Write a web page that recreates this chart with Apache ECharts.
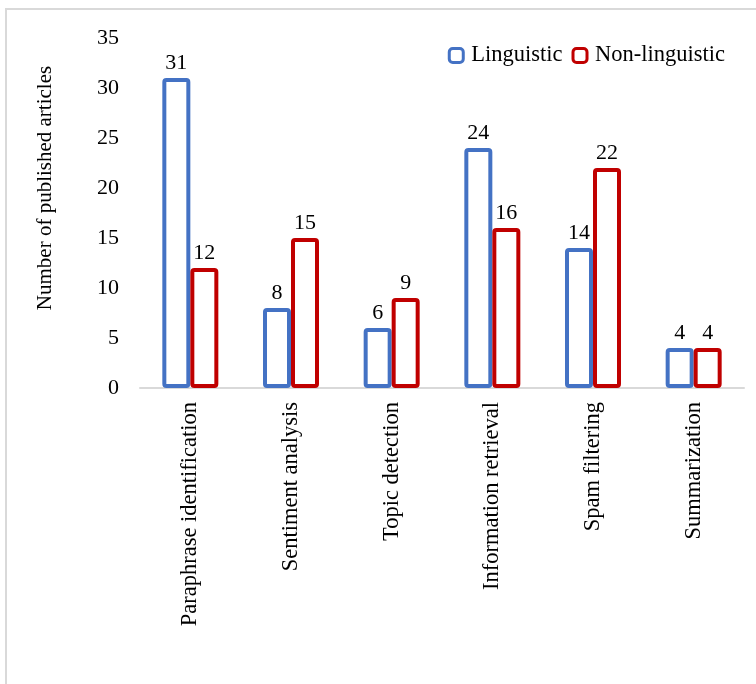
<!DOCTYPE html>
<html>
<head>
<meta charset="utf-8">
<script src="https://cdn.jsdelivr.net/npm/echarts@6/dist/echarts.min.js"></script>
<style>
  html, body { margin: 0; padding: 0; background: #fff; }
  #main { width: 756px; height: 684px; }
</style>
</head>
<body>
<div id="main"></div>
<script>
const categories = ['Paraphrase identification', 'Sentiment analysis', 'Topic detection',
  'Information retrieval', 'Spam filtering', 'Summarization'];
const linguistic = [31, 8, 6, 24, 14, 4];
const nonLinguistic = [12, 15, 9, 16, 22, 4];
const yTicks = { min: 0, max: 35, interval: 5 };

const font = 'Liberation Serif';
const chart = echarts.init(document.getElementById('main'));

function barSeries(name, data, color) {
  return {
    name: name,
    type: 'bar',
    data: data,
    barWidth: 28,
    barGap: '0%',
    itemStyle: {
      color: '#ffffff',
      borderColor: color,
      borderWidth: 4,
      borderRadius: 2
    },
    label: {
      show: true,
      position: 'top',
      distance: 4,
      color: '#000',
      fontFamily: font,
      fontSize: 22
    }
  };
}

const option = {
  animation: false,
  backgroundColor: '#fff',
  textStyle: { fontFamily: font },
  graphic: [{
    type: 'rect',
    shape: { x: 6, y: 9, width: 800, height: 800 },
    style: { fill: 'none', stroke: '#d9d9d9', lineWidth: 2 },
    silent: true
  }],
  legend: {
    top: 39,
    right: 26,
    itemWidth: 14,
    itemHeight: 14,
    itemGap: 9,
    itemStyle: { borderWidth: 3 },
    textStyle: { fontFamily: font, fontSize: 22.5, color: '#000', padding: [0, 0, 0, 3] },
    data: ['Linguistic', 'Non-linguistic']
  },
  grid: { left: 140, right: 12, top: 38, bottom: 296 },
  xAxis: {
    type: 'category',
    data: categories,
    axisLine: { lineStyle: { color: '#d9d9d9', width: 2 } },
    axisTick: { show: false },
    axisLabel: {
      rotate: 90,
      interval: 0,
      margin: 14,
      color: '#000',
      fontFamily: font,
      fontSize: 22.5
    }
  },
  yAxis: {
    type: 'value',
    min: yTicks.min,
    max: yTicks.max,
    interval: yTicks.interval,
    name: 'Number of published articles',
    nameLocation: 'middle',
    nameRotate: 90,
    nameGap: 84,
    nameTextStyle: { fontFamily: font, fontSize: 21, color: '#000', padding: [0, 0, 0, 50] },
    splitLine: { show: false },
    axisLine: { show: false },
    axisTick: { show: false },
    axisLabel: { margin: 21, color: '#000', fontFamily: font, fontSize: 22 }
  },
  series: [
    barSeries('Linguistic', linguistic, '#4472c4'),
    barSeries('Non-linguistic', nonLinguistic, '#c00000')
  ]
};

chart.setOption(option);
</script>
</body>
</html>
